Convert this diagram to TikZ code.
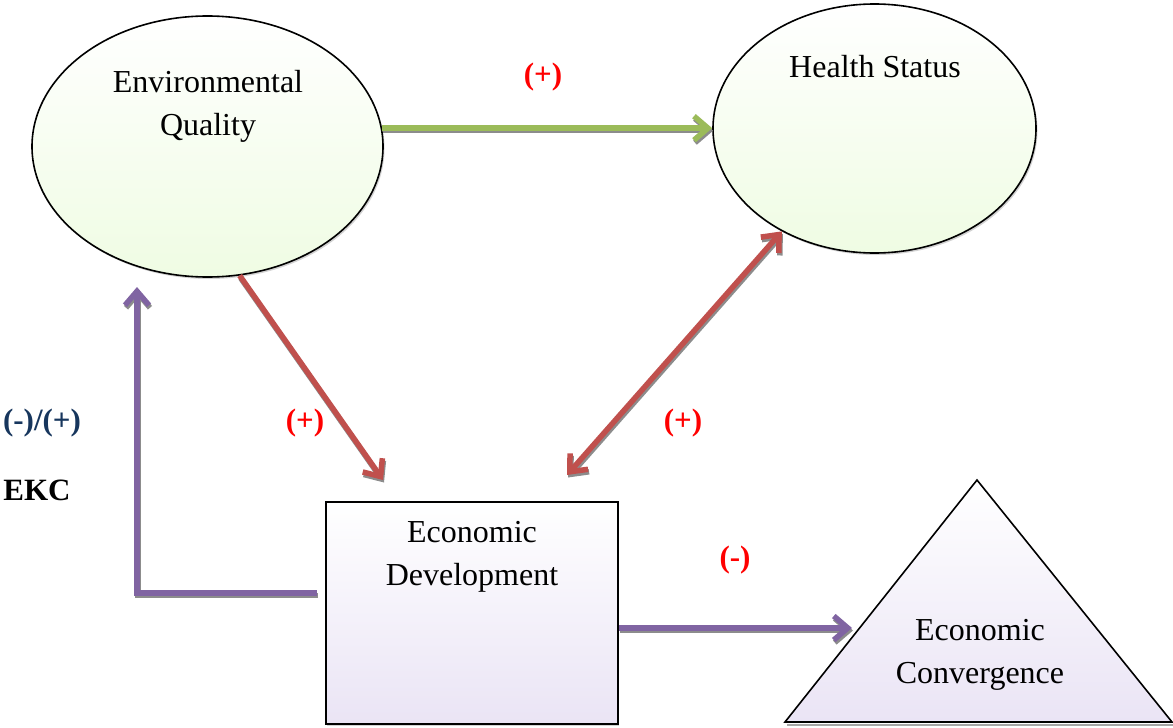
\documentclass[tikz,border=0pt]{standalone}
\usepackage{fontspec}
\setmainfont{Liberation Serif}
\usepackage{tikz}
\usetikzlibrary{shapes.geometric}
\usetikzlibrary{shadows}
\usetikzlibrary{arrows.meta}
\definecolor{arrgreen}{HTML}{9BBB59}
\definecolor{arrred}{HTML}{C0504D}
\definecolor{arrpurple}{HTML}{8064A2}
\definecolor{fillgreen}{HTML}{EFFCE3}
\definecolor{filllav}{HTML}{EAE4F5}
\definecolor{ekcblue}{HTML}{17365D}
\tikzset{
  oval/.style = {shape=ellipse,draw,line width=1.6pt,inner sep=0pt,
    top color=white,bottom color=fillgreen,
    drop shadow={shadow xshift=1.5pt,shadow yshift=-2pt,fill=gray!70}},
  box/.style = {shape=rectangle,draw,line width=1.6pt,inner sep=0pt,
    top color=white,bottom color=filllav,
    drop shadow={shadow xshift=1pt,shadow yshift=-2pt,fill=gray!70}},
  txt/.style = {font=\fontsize{32}{43}\selectfont,align=center,anchor=base,inner sep=0pt},
  sign/.style = {font=\fontsize{31}{36}\selectfont\bfseries,inner sep=0pt},
  link/.style = {line width=5.5pt},
  barb/.tip = {Straight Barb[length=14pt,width=24pt]}
}
\begin{document}
\begin{tikzpicture}[x=1pt,y=-1pt]
\useasboundingbox (0,0) rectangle (1173,728);

% shapes
\node[oval,minimum width=351pt,minimum height=261pt] (eq) at (207.5,146.5) {};
\node[oval,minimum width=323pt,minimum height=249pt] (hs) at (874.5,128.5) {};
\node[box,minimum width=292pt,minimum height=222pt] (ed) at (472,613) {};
\fill[gray!70] (787,724) -- (1174,724) -- (1174,726) -- (787,726) -- cycle;
\filldraw[line width=1.6pt,top color=white,bottom color=filllav]
  (977,480) -- (1172,722) -- (785,722) -- cycle;

% texts
\node[txt] (eqtext) at (208,135) {Environmental\\Quality};
\node[txt] (hstext) at (875,77) {Health Status};
\node[txt] (edtext) at (472,585) {Economic\\Development};
\node[txt] (ectext) at (980,683) {Economic\\Convergence};

% free ends
\coordinate (edin) at (383,480);
\coordinate (edout) at (567,475);
\coordinate (ekcstart) at (317,593);
\coordinate (ekcend) at (137,287);
\coordinate (ectip) at (852,628);

% link shadows
\begin{scope}[transform canvas={xshift=1pt,yshift=-2.5pt},draw=black!45]
\draw[link,-barb] (eq.6.4) -- (eq.6.4 -| hs.west);
\draw[link,-barb] (eq.-76) -- (edin);
\draw[link,barb-barb] (edout) -- (hs.228);
\draw[link,-barb] (ekcstart) -| (ekcend);
\draw[link,-barb] (ed.east |- ectip) -- (ectip);
\end{scope}

% links
\draw[link,arrgreen,-barb] (eq.6.4) -- (eq.6.4 -| hs.west);
\draw[link,arrred,-barb] (eq.-76) -- (edin);
\draw[link,arrred,barb-barb] (edout) -- (hs.228);
\draw[link,arrpurple,-barb] (ekcstart) -| (ekcend);
\draw[link,arrpurple,-barb] (ed.east |- ectip) -- (ectip);

% signs
\node[sign,red] (s1) at (543,77) {(+)};
\node[sign,red] (s2) at (305,423) {(+)};
\node[sign,red] (s3) at (683,423) {(+)};
\node[sign,red] (s4) at (735,560) {(-)};
\node[sign,ekcblue] (s5) at (42,423) {(-)/(+)};
\node[sign] (ekc) at (37,490) {EKC};
\end{tikzpicture}
\end{document}
